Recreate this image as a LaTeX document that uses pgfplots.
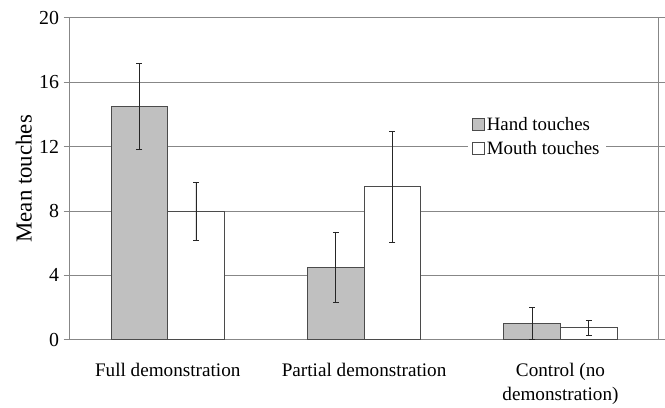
\documentclass[border=0pt]{standalone}
\usepackage{pgfplots}
\pgfplotsset{compat=1.18}
\usepackage{fontspec}
\setmainfont{Liberation Serif}
\definecolor{barfill}{RGB}{192,192,192}
\definecolor{barline}{RGB}{75,75,75}
\definecolor{gridc}{RGB}{135,135,135}
\begin{document}
\begin{tikzpicture}[font=\fontsize{19}{23}\selectfont]
\path (-70pt,-63pt) rectangle (595pt,342pt);
\begin{axis}[
  at={(0pt,0pt)}, anchor=south west,
  scale only axis, width=593pt, height=324pt,
  ybar=0pt, bar width=0.288,
  xmin=-0.5, xmax=2.5, ymin=0, ymax=20,
  ytick={0,4,8,12,16,20},
  xtick={0,1,2},
  xticklabels={Full demonstration, Partial demonstration, {Control (no\\demonstration)}},
  xticklabel style={align=center, yshift=-14pt, font=\fontsize{19.3}{24}\selectfont},
  major x tick style={draw=none},
  extra x ticks={-0.5,0.5,1.5,2.5},
  extra x tick labels={},
  extra x tick style={major tick length=6pt, tick style={draw=gridc, line width=0.8pt}, tick align=outside},
  ymajorgrids, grid style={gridc, line width=0.8pt},
  axis line style={gridc, line width=0.8pt},
  ytick style={gridc, line width=0.8pt}, ytick align=outside, major tick length=6pt,
  ylabel={Mean touches},
  ylabel style={font=\fontsize{23}{26}\selectfont, at={(-46pt,0.5)}, anchor=center, rotate=0},
  /pgf/number format/assume math mode=true,
  yticklabel style={xshift=-1pt, font=\fontsize{20}{24}\selectfont},
  legend style={at={(0.676,0.7)}, anchor=north west, draw=none, fill=white,
    font=\fontsize{19}{22}\selectfont, row sep=5pt, inner xsep=4pt, inner ysep=1pt},
  legend cell align=left,
  error bars/error bar style={black!85, line width=0.8pt},
  error bars/error mark options={rotate=90, mark size=3pt, black!85, line width=0.8pt},
]
\addplot+[fill=barfill, draw=barline, line width=1pt,
  legend image code/.code={\draw[fill=barfill, draw=barline, line width=1pt] (0pt,-6pt) rectangle (12pt,6pt);},
  error bars/.cd, y dir=both, y explicit]
  coordinates {(0,14.5) +- (0,2.65) (1,4.5) +- (0,2.2) (2,1.0) +- (0,1.0)};
\addlegendentry{Hand touches}
\addplot+[fill=white, draw=barline, line width=1pt,
  legend image code/.code={\draw[fill=white, draw=barline, line width=1pt] (0pt,-6pt) rectangle (12pt,6pt);},
  error bars/.cd, y dir=both, y explicit]
  coordinates {(0,8.0) +- (0,1.8) (1,9.5) +- (0,3.45) (2,0.75) +- (0,0.45)};
\addlegendentry{Mouth touches}
\end{axis}
\end{tikzpicture}
\end{document}
